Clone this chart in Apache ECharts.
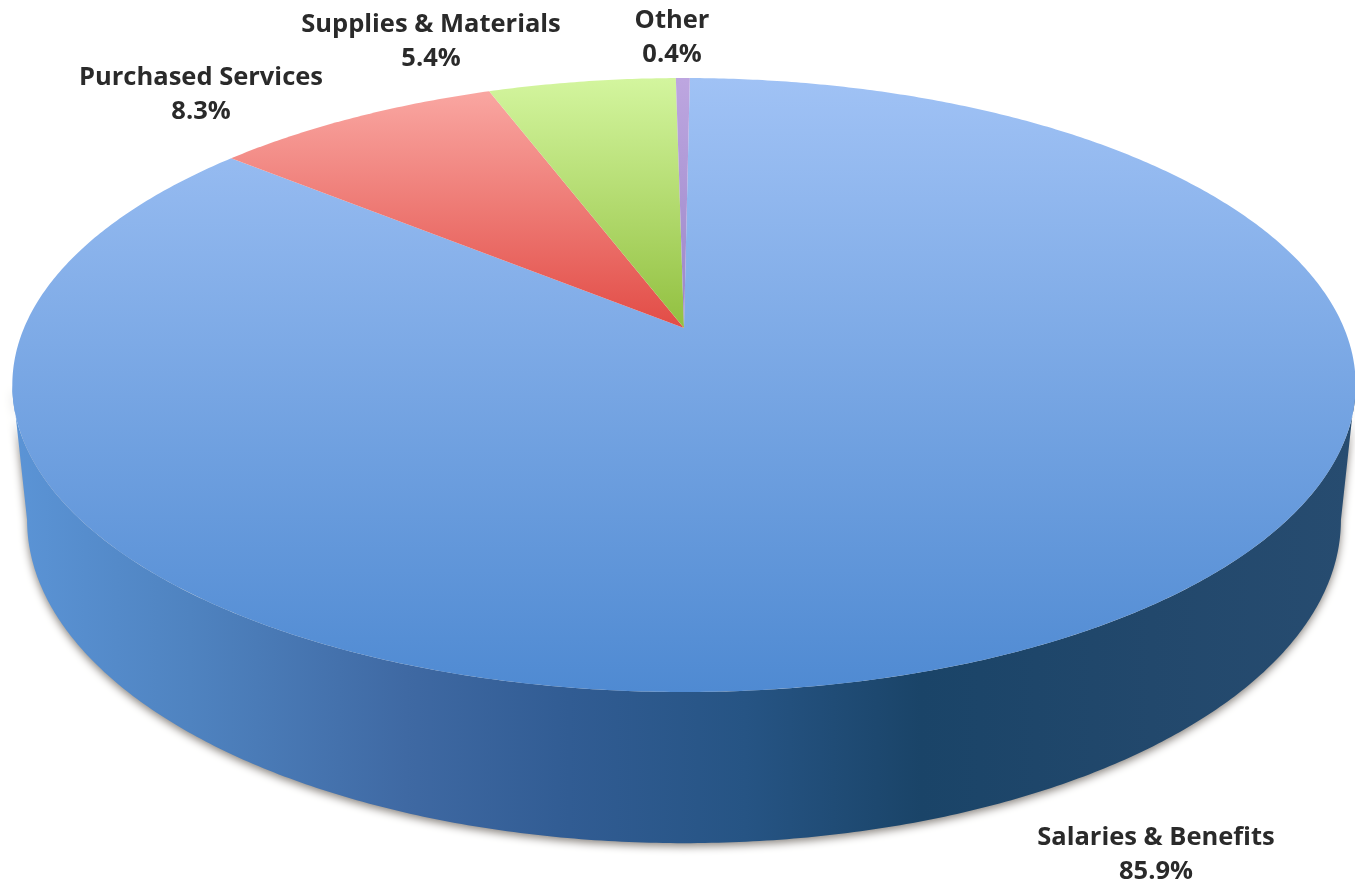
<!DOCTYPE html>
<html><head><meta charset="utf-8">
<style>html,body{margin:0;padding:0;background:#fff}#c{width:1355px;height:885px}</style>
<script src="https://cdn.jsdelivr.net/npm/echarts@6/dist/echarts.min.js"></script>
</head><body><div id="c"></div>
<script>
const categories = ['Salaries & Benefits', 'Purchased Services', 'Supplies & Materials', 'Other'];
const shares = [85.9, 8.3, 5.4, 0.4];
const shareLabels = ['85.9%', '8.3%', '5.4%', '0.4%'];

// layout of the tilted disc (perspective projection of a circle)
const startDeg = 0.6, px = 684, persp = 0.1857;
const topFace = { cy: 328, A: 296.4, B: 660 };
const lowFace = { cy: 460, A: 312, B: 645.5 };
const sideDeg = 100.7; // where each rim reaches its widest point
const labelAt = [[1156, 837.5], [201, 77.5], [431, 24.5], [672, 20.5]];
const labelGap = 34.5;
const sliceColors = [
  ['#a0c2f5', '#4f8ad2', 78, 692],
  ['#f9a5a0', '#e24c46', 95, 328],
  ['#d3f59e', '#92c040', 79, 328],
  ['#bda6e0', '#9a86c8', 79, 328]
];
const wallStops = [
  [0.01, '#5b94d6'], [0.14, '#4f83c0'], [0.30, '#3f69a3'], [0.42, '#315c93'],
  [0.55, '#265484'], [0.68, '#1a4468'], [0.85, '#22486c'], [1, '#274c70']
];

function project(face, deg) {
  const t = deg * Math.PI / 180, u = Math.sin(t), w = -Math.cos(t), d = 1 - persp * w;
  return [px + face.B * u / d, face.cy + face.A * w / d];
}
function rim(face, from, to) {
  const out = [], n = Math.max(2, Math.ceil(Math.abs(to - from) * 2));
  for (let i = 0; i <= n; i++) out.push(project(face, from + (to - from) * i / n));
  return out;
}
const G = echarts.graphic.LinearGradient;

function renderItem(params, api) {
  const i = params.dataIndex;
  let before = 0;
  for (let k = 0; k < i; k++) before += shares[k];
  const a0 = startDeg + before * 3.6, a1 = a0 + api.value(0) * 3.6;
  const c = sliceColors[i], children = [];
  if (i === 0) {
    const wall = rim(topFace, sideDeg, 360 - sideDeg).concat(rim(lowFace, 360 - sideDeg, sideDeg));
    children.push({
      type: 'polygon', shape: { points: wall },
      style: {
        fill: new G(0, 0, 1355, 0, wallStops.map(s => ({ offset: s[0], color: s[1] })), true),
        shadowBlur: 9, shadowColor: 'rgba(40,30,20,0.55)', shadowOffsetY: 3
      }
    });
  }
  children.push({
    type: 'polygon',
    shape: { points: [[px, topFace.cy]].concat(rim(topFace, a0, a1)) },
    style: { fill: new G(0, c[2], 0, c[3], [{ offset: 0, color: c[0] }, { offset: 1, color: c[1] }], true) }
  });
  const at = labelAt[i];
  [categories[i], shareLabels[i]].forEach((s, j) => children.push({
    type: 'text', z2: 10,
    style: {
      x: at[0], y: at[1] + j * labelGap, text: s, align: 'center', verticalAlign: 'middle',
      font: '700 25.5px "Open Sans"', fill: '#2a2a2a'
    }
  }));
  return { type: 'group', children };
}

const chart = echarts.init(document.getElementById('c'), null, { renderer: 'canvas' });
chart.setOption({
  animation: false,
  backgroundColor: '#fff',
  series: [{
    type: 'custom', coordinateSystem: 'none', silent: true, renderItem,
    data: categories.map((name, i) => ({ name, value: [shares[i]] }))
  }]
});
</script></body></html>
